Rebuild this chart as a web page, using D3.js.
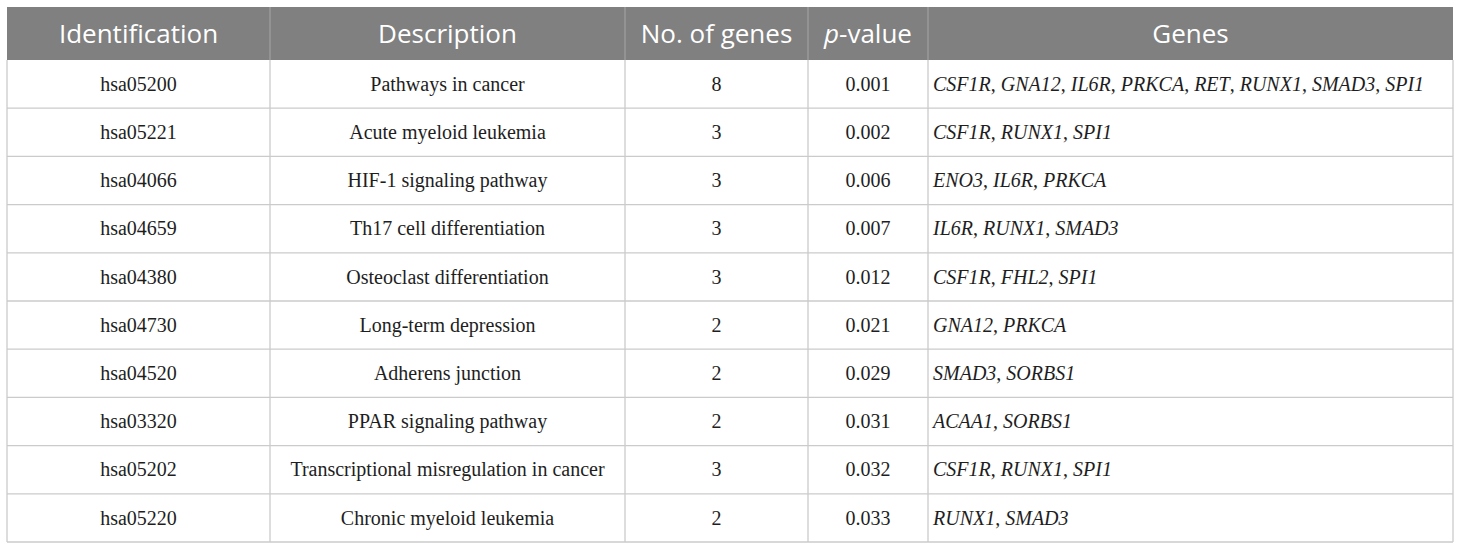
<!DOCTYPE html>
<html>
<head>
<meta charset="utf-8">
<script src="https://cdn.jsdelivr.net/npm/d3@7"></script>
<style>
  body { margin: 0; background: #fff; }
</style>
</head>
<body>
<svg id="tbl"></svg>
<script>
var headers = ["Identification", "Description", "No. of genes", "p-value", "Genes"];
var ids = ["hsa05200", "hsa05221", "hsa04066", "hsa04659", "hsa04380",
           "hsa04730", "hsa04520", "hsa03320", "hsa05202", "hsa05220"];
var descriptions = ["Pathways in cancer", "Acute myeloid leukemia", "HIF-1 signaling pathway",
                    "Th17 cell differentiation", "Osteoclast differentiation", "Long-term depression",
                    "Adherens junction", "PPAR signaling pathway",
                    "Transcriptional misregulation in cancer", "Chronic myeloid leukemia"];
var geneCounts = [8, 3, 3, 3, 3, 2, 2, 2, 3, 2];
var pValues = ["0.001", "0.002", "0.006", "0.007", "0.012", "0.021", "0.029", "0.031", "0.032", "0.033"];
var genes = [
  ["CSF1R", "GNA12", "IL6R", "PRKCA", "RET", "RUNX1", "SMAD3", "SPI1"],
  ["CSF1R", "RUNX1", "SPI1"],
  ["ENO3", "IL6R", "PRKCA"],
  ["IL6R", "RUNX1", "SMAD3"],
  ["CSF1R", "FHL2", "SPI1"],
  ["GNA12", "PRKCA"],
  ["SMAD3", "SORBS1"],
  ["ACAA1", "SORBS1"],
  ["CSF1R", "RUNX1", "SPI1"],
  ["RUNX1", "SMAD3"]
];

var width = 1460, height = 550;
var tLeft = 7, tRight = 1453, tTop = 7, headH = 53, tBottom = 542;
// column edges
var colEdges = [tLeft, 270, 625, 808, 928, tRight];

var svg = d3.select("#tbl").attr("width", width).attr("height", height);

var rowScale = d3.scaleBand()
  .domain(d3.range(ids.length))
  .range([tTop + headH, tBottom]);

// header
svg.append("rect")
  .attr("x", tLeft).attr("y", tTop)
  .attr("width", tRight - tLeft).attr("height", headH)
  .style("fill", "#7f807f");

var head = svg.append("g").selectAll("text")
  .data(headers)
  .enter()
  .append("text")
  .attr("x", function (d, i) { return (colEdges[i] + colEdges[i + 1]) / 2; })
  .attr("y", tTop + headH / 2)
  .attr("dy", "0.36em")
  .attr("text-anchor", "middle")
  .style("font-family", "'Open Sans', sans-serif")
  .style("font-size", "26px")
  .style("fill", "#fff");

head.each(function (d) {
  var t = d3.select(this);
  if (d === "p-value") {
    t.append("tspan").style("font-style", "italic").text("p");
    t.append("tspan").text("-value");
  } else {
    t.text(d);
  }
});

// header separators
svg.append("g").selectAll("line")
  .data(colEdges.slice(1, -1))
  .enter()
  .append("line")
  .attr("x1", function (d) { return d; }).attr("x2", function (d) { return d; })
  .attr("y1", tTop).attr("y2", tTop + headH)
  .style("stroke", "#a6a6a6").style("stroke-width", 1);

// body grid
var grid = svg.append("g").style("stroke", "#cbcbcb").style("stroke-width", 1.3);
grid.selectAll("line.h")
  .data(d3.range(1, ids.length + 1))
  .enter()
  .append("line")
  .attr("class", "h")
  .attr("x1", tLeft).attr("x2", tRight)
  .attr("y1", function (d) { return rowScale(d - 1) + rowScale.bandwidth(); })
  .attr("y2", function (d) { return rowScale(d - 1) + rowScale.bandwidth(); });

grid.selectAll("line.v")
  .data(colEdges)
  .enter()
  .append("line")
  .attr("class", "v")
  .attr("x1", function (d) { return d; }).attr("x2", function (d) { return d; })
  .attr("y1", tTop + headH).attr("y2", tBottom);

// body cells
var rows = svg.append("g").selectAll("g.row")
  .data(ids.map(function (id, i) {
    return { id: id, desc: descriptions[i], n: geneCounts[i], p: pValues[i], genes: genes[i] };
  }))
  .enter()
  .append("g")
  .attr("class", "row")
  .attr("transform", function (d, i) { return "translate(0," + (rowScale(i) + rowScale.bandwidth() / 2) + ")"; })
  .style("font-family", "'Liberation Serif', 'Times New Roman', serif")
  .style("font-size", "20px")
  .style("fill", "#1e1e1e");

[["id", 0], ["desc", 1], ["n", 2], ["p", 3]].forEach(function (c) {
  rows.append("text")
    .attr("x", (colEdges[c[1]] + colEdges[c[1] + 1]) / 2)
    .attr("dy", "0.33em")
    .attr("text-anchor", "middle")
    .text(function (d) { return d[c[0]]; });
});

rows.append("text")
  .attr("x", colEdges[4] + 5)
  .attr("dy", "0.33em")
  .each(function (d) {
    var t = d3.select(this);
    d.genes.forEach(function (g, j) {
      if (j > 0) t.append("tspan").text(", ");
      t.append("tspan").style("font-style", "italic").text(g);
    });
  });
</script>
</body>
</html>
